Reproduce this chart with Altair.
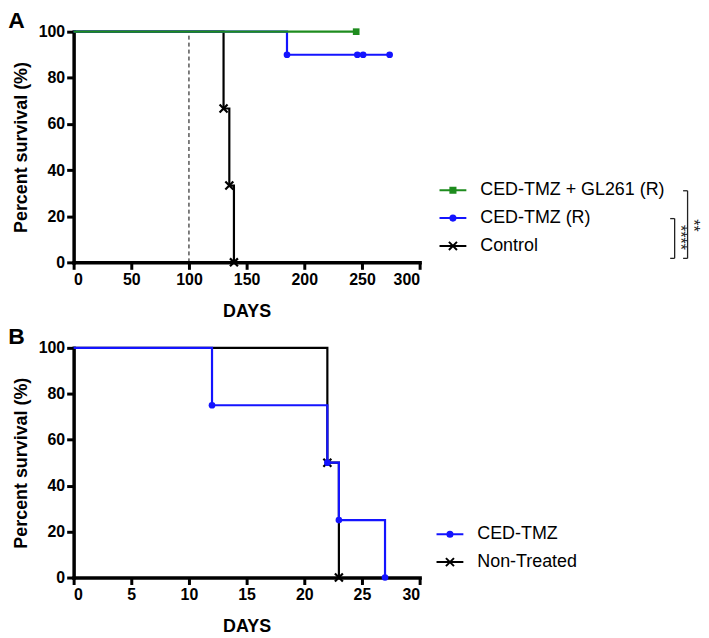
import altair as alt
import pandas as pd

FONT = "Liberation Sans"

# ---------------- Panel A data ----------------
a_series = ["CED-TMZ + GL261 (R)", "CED-TMZ (R)", "Control"]
a_colors = ["#1e8c1e", "#1414ff", "#000000"]
a_gl261_days = [0, 245]
a_gl261_surv = [100, 100]
a_ced_days = [0, 185, 246, 251, 274]
a_ced_surv = [100, 90, 90, 90, 90]
a_ctrl_days = [0, 130, 135, 139]
a_ctrl_surv = [100, 66.7, 33.3, 0]
a_rechallenge_day = [100]
a_x_ticks = [0, 50, 100, 150, 200, 250, 300]
a_sig_labels = ["****", "**"]

# ---------------- Panel B data ----------------
b_series = ["CED-TMZ", "Non-Treated"]
b_colors = ["#1414ff", "#000000"]
b_ced_days = [0, 12, 22, 23, 27]
b_ced_surv = [100, 75, 50, 25, 0]
b_nt_days = [0, 22, 23]
b_nt_surv = [100, 50, 0]
b_x_ticks = [0, 5, 10, 15, 20, 25, 30]

y_ticks = [0, 20, 40, 60, 80, 100]

# ---------------- styles ----------------
XMARK = "M-1,-1L1,1M-1,1L1,-1"
LEG_SQUARE = "M-1,0H1M-0.19,-0.19H0.19V0.19H-0.19Z"
LEG_CIRCLE = "M-1,0H1M0.19,0A0.19,0.19,0,1,1,-0.19,0A0.19,0.19,0,1,1,0.19,0Z"
LEG_X = "M-1,0H1M-0.3,-0.3L0.3,0.3M-0.3,0.3L0.3,-0.3"

MARKER = {
    "square": dict(shape="square", filled=True, size=45),
    "circle": dict(shape="circle", filled=True, size=45),
    "x": dict(shape=XMARK, filled=False, size=64, strokeWidth=2.2),
}
LEG_PATH = {"square": LEG_SQUARE, "circle": LEG_CIRCLE, "x": LEG_X}


def km(series, days, surv):
    return pd.DataFrame({"series": series, "day": days, "surv": surv})


def panel(label, curves, legend_names, legend_colors, legend_marks,
          x_domain, x_ticks, height, leg_x, leg_y, extra_layers=()):
    X = alt.X("day:Q", scale=alt.Scale(domain=x_domain, nice=False, zero=False),
              axis=alt.Axis(values=x_ticks, title="DAYS"))
    Y = alt.Y("surv:Q", scale=alt.Scale(domain=[0, 100], nice=False),
              axis=alt.Axis(values=y_ticks, title="Percent survival (%)"))
    layers = list(extra_layers)
    for name, df, color, mk in curves:
        layers.append(
            alt.Chart(df).mark_line(interpolate="step-after", color=color,
                                    strokeWidth=2.2).encode(x=X, y=Y)
        )
    for name, df, color, mk in curves:
        opts = dict(MARKER[mk])
        layers.append(
            alt.Chart(df[df["day"] > 0]).mark_point(color=color, opacity=1, **opts)
            .encode(x=X, y=Y)
        )
    leg_df = pd.DataFrame({"series": legend_names})
    leg_scale_fill = alt.Scale(domain=legend_names, range=legend_colors)
    leg_scale_shape = alt.Scale(domain=legend_names,
                                range=[LEG_PATH[m] for m in legend_marks])
    legend = alt.Legend(orient="none", legendX=leg_x, legendY=leg_y, title=None,
                        labelFont=FONT, labelFontSize=18, labelColor="black",
                        labelLimit=400,
                        symbolSize=729, symbolStrokeWidth=2, labelOffset=13,
                        rowPadding=4, padding=0, symbolOpacity=1)
    layers.append(
        alt.Chart(leg_df).transform_filter("false").mark_point(filled=True, opacity=1)
        .encode(
            fill=alt.Fill("series:N", scale=leg_scale_fill, legend=legend),
            stroke=alt.Stroke("series:N", scale=leg_scale_fill, legend=legend),
            shape=alt.Shape("series:N", scale=leg_scale_shape, legend=legend),
        )
    )
    return alt.layer(*layers).properties(
        width=348, height=height,
        title=alt.TitleParams(label, anchor="start", frame="bounds", font=FONT,
                              fontSize=23, fontWeight="bold", color="black",
                              offset=-9, dx=-4),
    )


# ---------- panel A ----------
cut_df = pd.DataFrame({"day": a_rechallenge_day, "lo": [0], "hi": [100]})
cutoff = alt.Chart(cut_df).mark_rule(strokeDash=[4, 3], strokeWidth=1, color="black").encode(
    x=alt.X("day:Q"), y=alt.Y("lo:Q"), y2="hi:Q")

bracket_layers = []
# significance brackets (annotation, placed in pixels next to the legend)
br = [
    dict(x=604.5, y0=188, y1=228, tx=610.0, ty=207, i=0),
    dict(x=617.5, y0=160, y1=228, tx=623.0, ty=195, i=1),
]
for b in br:
    d = pd.DataFrame({"label": [a_sig_labels[b["i"]]]})
    bracket_layers.append(alt.Chart(d).mark_rule(color="#222", strokeWidth=1.3).encode(
        x=alt.value(b["x"]), y=alt.value(b["y0"]), y2=alt.value(b["y1"])))
    bracket_layers.append(alt.Chart(d).mark_rule(color="#222", strokeWidth=1.3).encode(
        x=alt.value(b["x"] - 4.5), x2=alt.value(b["x"]), y=alt.value(b["y0"])))
    bracket_layers.append(alt.Chart(d).mark_rule(color="#222", strokeWidth=1.3).encode(
        x=alt.value(b["x"] - 4.5), x2=alt.value(b["x"]), y=alt.value(b["y1"])))
    bracket_layers.append(alt.Chart(d).mark_text(font=FONT, fontSize=16, angle=90,
                                                 align="center", baseline="middle",
                                                 color="#222").encode(
        x=alt.value(b["tx"]), y=alt.value(b["ty"]), text="label:N"))

panelA = panel(
    "A",
    [
        (a_series[2], km(a_series[2], a_ctrl_days, a_ctrl_surv), a_colors[2], "x"),
        (a_series[1], km(a_series[1], a_ced_days, a_ced_surv), a_colors[1], "circle"),
        (a_series[0], km(a_series[0], a_gl261_days, a_gl261_surv), a_colors[0], "square"),
    ],
    a_series, a_colors, ["square", "circle", "x"],
    [0, 300], a_x_ticks, 232, 367, 145,
    extra_layers=[cutoff] + bracket_layers,
)

panelB = panel(
    "B",
    [
        (b_series[1], km(b_series[1], b_nt_days, b_nt_surv), b_colors[1], "x"),
        (b_series[0], km(b_series[0], b_ced_days, b_ced_surv), b_colors[0], "circle"),
    ],
    b_series, b_colors, ["circle", "x"],
    [0, 30], b_x_ticks, 231, 364, 173,
)

chart = (
    alt.vconcat(panelA, panelB, spacing=6)
    .resolve_scale(fill="independent", stroke="independent", shape="independent",
                   x="independent", y="independent")
    .properties(padding=0)
    .configure_axis(
        domainColor="black", domainWidth=3.5, domainCap="square",
        tickColor="black", tickWidth=3, tickSize=7,
        labelFont=FONT, labelFontSize=16, labelFontWeight="bold", labelColor="black",
        labelPadding=2, titleFont=FONT, titleFontSize=18, titleFontWeight="bold",
        titleColor="black", grid=False,
    )
    .configure_axisX(titlePadding=15)
    .configure_axisY(titlePadding=8)
    .configure_view(stroke=None)
)

chart.save("out.html", embed_options={"renderer": "svg", "actions": False})
